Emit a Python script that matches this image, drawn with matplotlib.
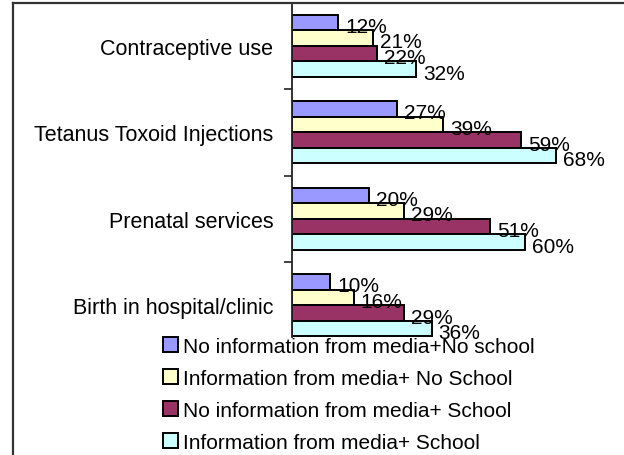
import matplotlib
matplotlib.use("Agg")
import matplotlib.pyplot as plt
from matplotlib.patches import Patch
from matplotlib.lines import Line2D
import numpy as np

plt.rcParams['font.family'] = ['Liberation Sans', 'DejaVu Sans']

categories = ["Contraceptive use", "Tetanus Toxoid Injections",
              "Prenatal services", "Birth in hospital/clinic"]
series_names = ["No information from media+No school",
                "Information from media+ No School",
                "No information from media+ School",
                "Information from media+ School"]
no_media_no_school = [12, 27, 20, 10]
media_no_school = [21, 39, 29, 16]
no_media_school = [22, 59, 51, 29]
media_school = [32, 68, 60, 36]
series_values = [no_media_no_school, media_no_school, no_media_school, media_school]
colors = ["#9999FF", "#FFFFCC", "#993366", "#CCFFFF"]

W, H = 624, 456
fig = plt.figure(figsize=(W / 100, H / 100), dpi=100)

# plot area in pixel coordinates
left_px, right_px, top_px, bottom_px = 291.5, 603.0, 3.5, 338.0
ax = fig.add_axes([left_px / W, 1 - bottom_px / H,
                   (right_px - left_px) / W, (bottom_px - top_px) / H])

n = len(categories)
y = np.arange(n)
h = 0.18
for i, (vals, col) in enumerate(zip(series_values, colors)):
    pos = y + (i - 1.5) * h
    ax.barh(pos, vals, height=h, color=col, edgecolor="black", linewidth=1.4)
    for p, v in zip(pos, vals):
        ax.annotate(f"{v}%", xy=(v, p), xytext=(7, -4), textcoords="offset pixels",
                    ha="left", va="center", fontsize=15, color="black")

ax.set_xlim(0, 80)
ax.set_ylim(-0.5 + (bottom_px - top_px) / 86.5, -0.5)

for s in ["top", "right", "bottom"]:
    ax.spines[s].set_visible(False)
ax.spines["left"].set_linewidth(1.3)
ax.spines["left"].set_color("#222222")
ax.set_xticks([])

ax.set_yticks([0.5, 1.5, 2.5])
ax.set_yticklabels([])
ax.tick_params(axis="y", which="major", length=6, width=1.2, color="#222222")
ax.set_yticks(y, minor=True)
ax.set_yticklabels(categories, minor=True, fontsize=15.5)
ax.tick_params(axis="y", which="minor", length=0, pad=13)

handles = [Patch(facecolor=c, edgecolor="black", linewidth=1.4) for c in colors]
fig.legend(handles, series_names, loc="upper left",
           bbox_to_anchor=(163 / W, 1 - 338 / H), frameon=False, fontsize=15,
           handlelength=0.72, handleheight=0.72, handletextpad=0.25,
           labelspacing=0.62, borderpad=0, borderaxespad=0)

# chart border (left and top edges)
fig.add_artist(Line2D([12.5 / W, 12.5 / W], [0, 1 - 4 / H], color="#333333",
                      linewidth=1.6, transform=fig.transFigure))
fig.add_artist(Line2D([12.5 / W, 1], [1 - 4 / H, 1 - 4 / H], color="#333333",
                      linewidth=1.6, transform=fig.transFigure))

fig.savefig("out.png", dpi=100)
